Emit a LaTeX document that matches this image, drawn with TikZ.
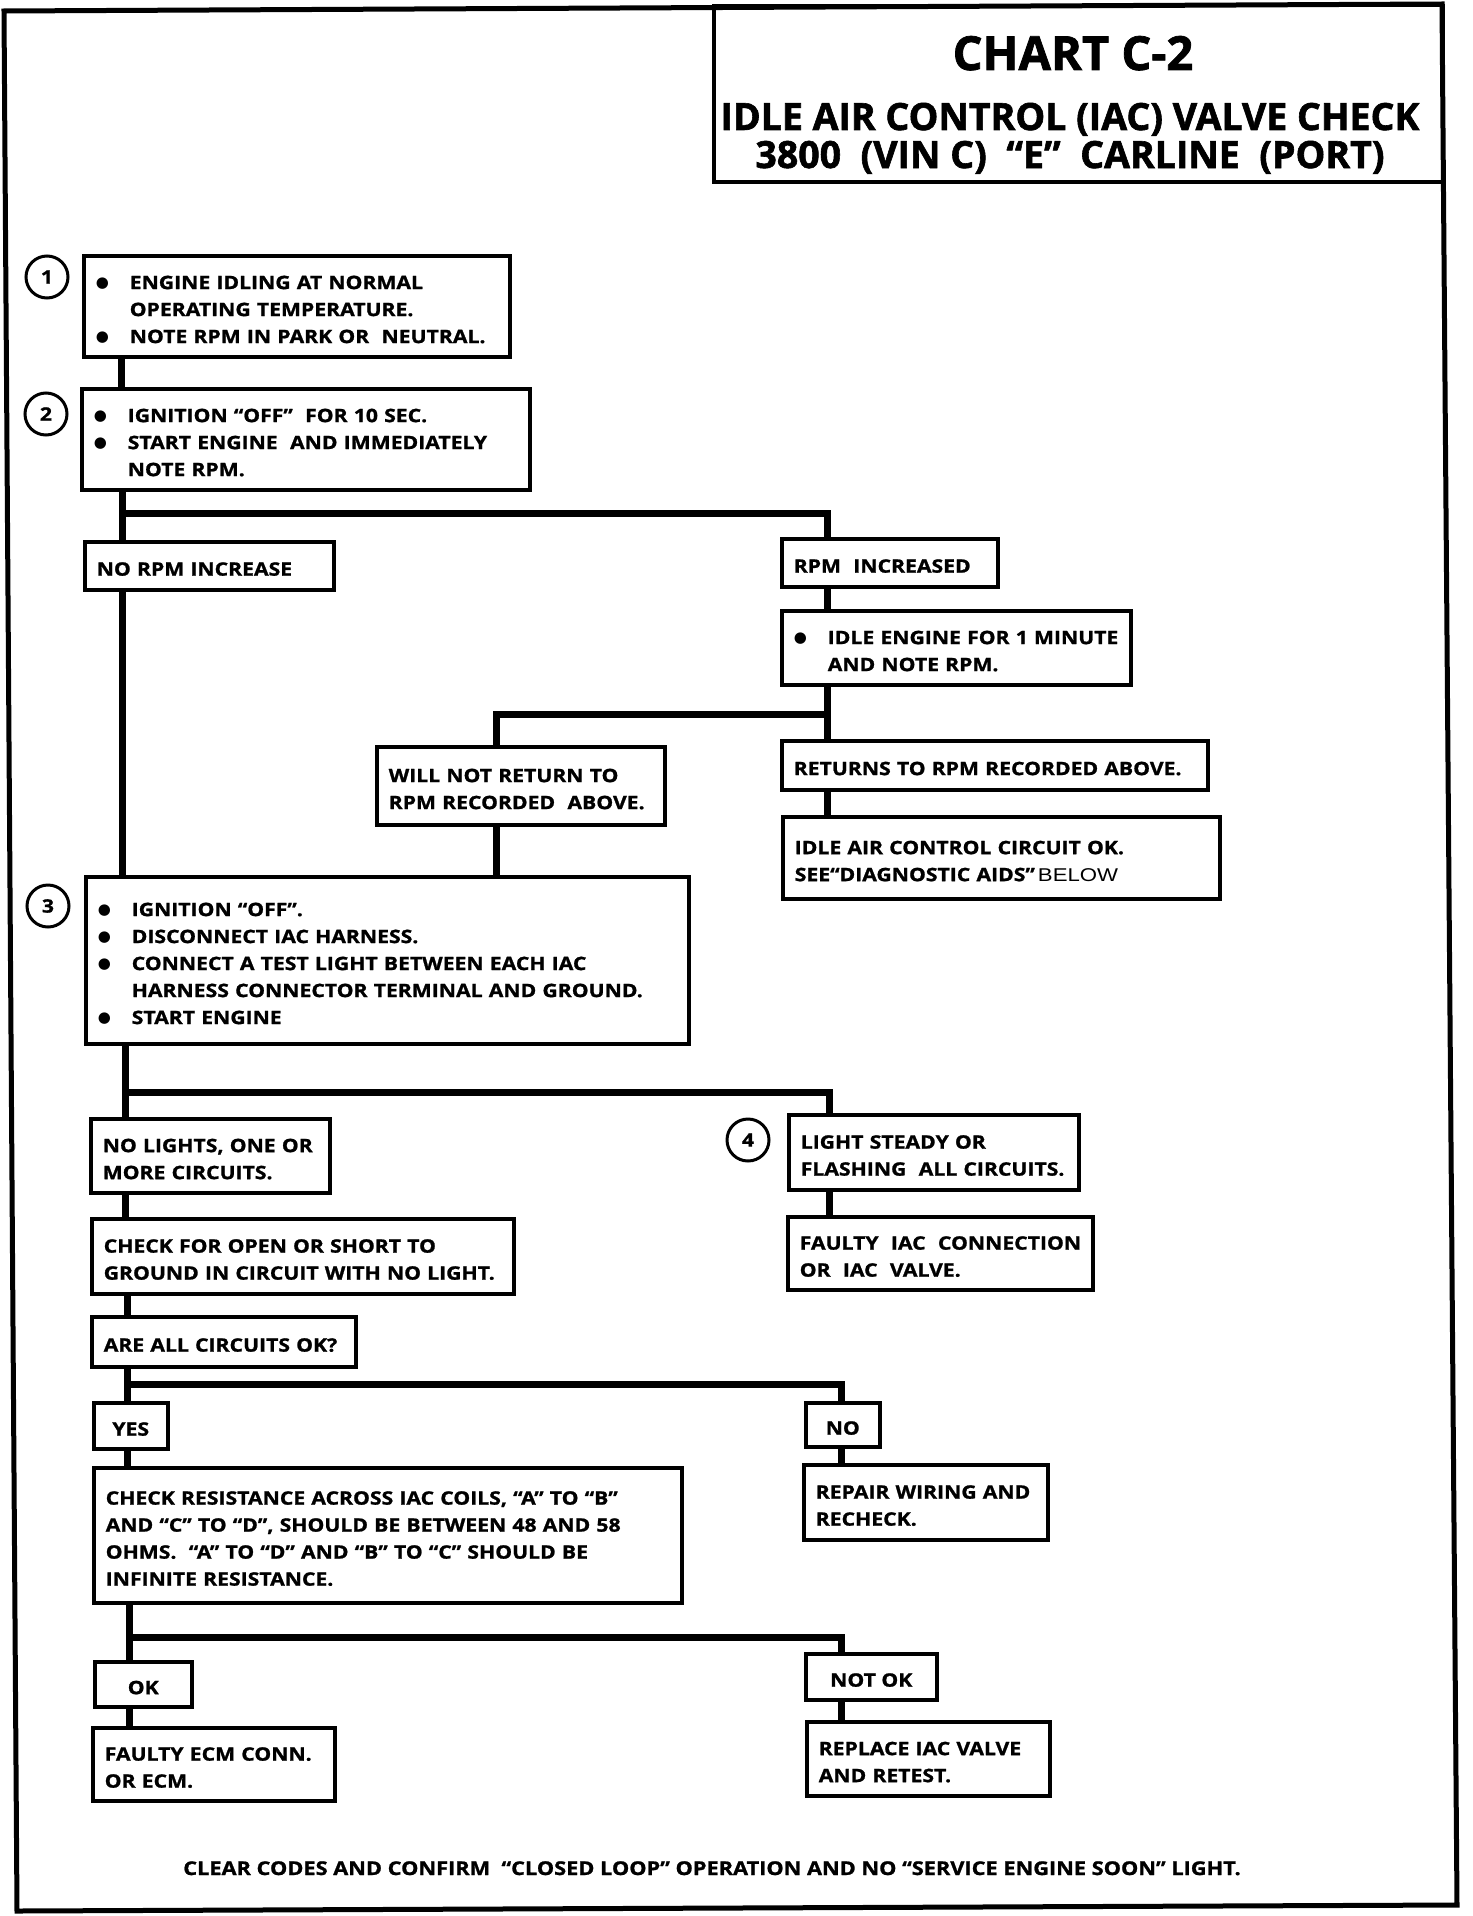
\documentclass[tikz,border=0pt]{standalone}
\usepackage{fontspec}
\newfontfamily\chartfont{Open Sans}[FakeStretch=1.145, FakeBold=1.2]
\newfontfamily\ctitlefont{Open Sans}[FakeBold=1.6]
\newfontfamily\cregfont{Liberation Sans}[FakeStretch=1.2]
\newfontfamily\cbulfont{DejaVu Sans}
\newcommand\cbody{\chartfont\bfseries\fontsize{18.5pt}{27pt}\selectfont}
\newcommand\cbul{\makebox[34pt][l]{\raisebox{1.5pt}{\cbulfont\fontsize{15pt}{15pt}\selectfont ●}}}
\newcommand\chang{\hspace*{34pt}}
\newcommand\cst{\rule{0pt}{20pt}}
\begin{document}
\begin{tikzpicture}[x=1pt, y=-1pt,
  box/.style={draw, line width=3.5pt, rectangle, anchor=north west, inner xsep=12pt, inner ysep=0pt, align=left, font=\cbody},
  sbox/.style={draw, line width=3.5pt, rectangle, anchor=north west, inner sep=0pt, align=center, font=\cbody},
  num/.style={draw, circle, line width=3pt, minimum size=42pt, inner sep=0pt, font=\cbody},
  conn/.style={line width=7pt, line cap=butt, line join=miter},
  ttl/.style={anchor=base, inner sep=0pt}]
\useasboundingbox (0,0) rectangle (1472,1916);
% outer frame
\draw[line width=5pt, line join=miter] (4,11) -- (1442,4) -- (1457,1905) -- (17,1911) -- cycle;
% title
\node[draw, line width=3.5pt, anchor=north west, minimum width=729pt, minimum height=176pt, inner sep=0pt] (titlebox) at (712,4) {};
\node[ttl, font=\ctitlefont\bfseries\fontsize{47pt}{50pt}\selectfont] (titleA) at (1073,70) {CHART C-2};
\node[ttl, font=\ctitlefont\bfseries\fontsize{37.5pt}{40pt}\selectfont] (titleB) at (1070,130) {IDLE AIR CONTROL (IAC) VALVE CHECK};
\node[ttl, font=\ctitlefont\bfseries\fontsize{37.5pt}{40pt}\selectfont] (titleC) at (1070,168) {3800~~(VIN C)~~“E”~~CARLINE~~(PORT)};

% step circles
\node[num] (c1) at (47,277) {1};
\node[num] (c2) at (46,414) {2};
\node[num] (c3) at (48,906) {3};
\node[num] (c4) at (748,1140) {4};

% boxes
\node[box, text width=402pt, minimum width=426pt, minimum height=101pt] (b1) at (82,254)
  {\cst\mbox{\cbul ENGINE IDLING AT NORMAL}\\\mbox{\chang OPERATING TEMPERATURE.}\\\mbox{\cbul NOTE RPM IN PARK OR~~NEUTRAL.}};
\node[box, text width=424pt, minimum width=448pt, minimum height=101pt] (b2) at (80,387)
  {\cst\mbox{\cbul IGNITION “OFF”~~FOR 10 SEC.}\\\mbox{\cbul START ENGINE~~AND IMMEDIATELY}\\\mbox{\chang NOTE RPM.}};
\node[box, text width=225pt, minimum width=249pt, minimum height=48pt] (norpm) at (83,540) {\cst\mbox{NO RPM INCREASE}};
\node[box, text width=192pt, minimum width=216pt, minimum height=48pt] (rpminc) at (780,537) {\cst\mbox{RPM~~INCREASED}};
\node[box, text width=325pt, minimum width=349pt, minimum height=74pt] (idle) at (780,609)
  {\cst\mbox{\cbul IDLE ENGINE FOR 1 MINUTE}\\\mbox{\chang AND NOTE RPM.}};
\node[box, text width=264pt, minimum width=288pt, minimum height=78pt] (willnot) at (375,745)
  {\cst\mbox{WILL NOT RETURN TO}\\\mbox{RPM RECORDED~~ABOVE.}};
\node[box, text width=402pt, minimum width=426pt, minimum height=49pt] (returns) at (780,739)
  {\cst\mbox{RETURNS TO RPM RECORDED ABOVE.}};
\node[box, text width=413pt, minimum width=437pt, minimum height=82pt] (iacok) at (781,815)
  {\cst\mbox{IDLE AIR CONTROL CIRCUIT OK.}\\\mbox{SEE“DIAGNOSTIC AIDS”\,{\cregfont\mdseries BELOW}}};
\node[box, text width=579pt, minimum width=603pt, minimum height=167pt] (b3) at (84,875)
  {\cst\mbox{\cbul IGNITION “OFF”.}\\\mbox{\cbul DISCONNECT IAC HARNESS.}\\\mbox{\cbul CONNECT A TEST LIGHT BETWEEN EACH IAC}\\\mbox{\chang HARNESS CONNECTOR TERMINAL AND GROUND.}\\\mbox{\cbul START ENGINE}};
\node[box, text width=215pt, minimum width=239pt, minimum height=74pt] (nolights) at (89,1117)
  {\cst\mbox{NO LIGHTS, ONE OR}\\\mbox{MORE CIRCUITS.}};
\node[box, text width=398pt, minimum width=422pt, minimum height=75pt] (checkopen) at (90,1217)
  {\cst\mbox{CHECK FOR OPEN OR SHORT TO}\\\mbox{GROUND IN CIRCUIT WITH NO LIGHT.}};
\node[box, text width=240pt, minimum width=264pt, minimum height=50pt] (areall) at (90,1315)
  {\cst\mbox{ARE ALL CIRCUITS OK?}};
\node[box, text width=266pt, minimum width=290pt, minimum height=75pt] (lightsteady) at (787,1113)
  {\cst\mbox{LIGHT STEADY OR}\\\mbox{FLASHING~~ALL CIRCUITS.}};
\node[box, text width=281pt, minimum width=305pt, minimum height=73pt] (faultyiac) at (786,1215)
  {\cst\mbox{FAULTY~~IAC~~CONNECTION}\\\mbox{OR~~IAC~~VALVE.}};
\node[sbox, minimum width=74pt, minimum height=46pt] (yes) at (92,1401) {\cst YES};
\node[sbox, minimum width=74pt, minimum height=44pt] (no) at (804,1401) {\cst NO};
\node[box, text width=564pt, minimum width=588pt, minimum height=135pt] (checkres) at (92,1466)
  {\cst\mbox{CHECK RESISTANCE ACROSS IAC COILS, “A” TO “B”}\\\mbox{AND “C” TO “D”, SHOULD BE BETWEEN 48 AND 58}\\\mbox{OHMS.~~“A” TO “D” AND “B” TO “C” SHOULD BE}\\\mbox{INFINITE RESISTANCE.}};
\node[box, text width=220pt, minimum width=244pt, minimum height=75pt] (repair) at (802,1463)
  {\cst\mbox{REPAIR WIRING AND}\\\mbox{RECHECK.}};
\node[sbox, minimum width=97pt, minimum height=45pt] (ok) at (93,1660) {\cst OK};
\node[sbox, minimum width=131pt, minimum height=46pt] (notok) at (804,1652) {\cst NOT OK};
\node[box, text width=218pt, minimum width=242pt, minimum height=73pt] (faultyecm) at (91,1726)
  {\cst\mbox{FAULTY ECM CONN.}\\\mbox{OR ECM.}};
\node[box, text width=219pt, minimum width=243pt, minimum height=74pt] (replace) at (805,1720)
  {\cst\mbox{REPLACE IAC VALVE}\\\mbox{AND RETEST.}};

\node[anchor=base, inner sep=0pt, font=\chartfont\bfseries\fontsize{19pt}{27pt}\selectfont] (footer) at (712,1875)
  {CLEAR CODES AND CONFIRM~~“CLOSED LOOP” OPERATION AND NO “SERVICE ENGINE SOON” LIGHT.};

% connector columns and junctions
\coordinate (xa) at (121,0);
\coordinate (xb) at (122,0);
\coordinate (xc) at (125,0);
\coordinate (xd) at (127,0);
\coordinate (xe) at (129,0);
\coordinate (xr) at (827,0);
\coordinate (xw) at (496,0);
\coordinate (xl) at (829,0);
\coordinate (xn) at (841,0);
\coordinate (ja) at (122,513);
\coordinate (jb) at (827,714);
\coordinate (jc) at (125,1092);
\coordinate (jd) at (127,1384);
\coordinate (je) at (129,1637);

\draw[conn] (b1.south -| xa) -- (b2.north -| xa);
\draw[conn] (b2.south -| xb) -- (norpm.north -| xb);
\draw[conn] (ja) -| (rpminc.north -| xr);
\draw[conn] (norpm.south -| xb) -- (b3.north -| xb);
\draw[conn] (rpminc.south -| xr) -- (idle.north -| xr);
\draw[conn] (idle.south -| xr) -- (returns.north -| xr);
\draw[conn] (jb) -| (willnot.north -| xw);
\draw[conn] (returns.south -| xr) -- (iacok.north -| xr);
\draw[conn] (willnot.south -| xw) -- (b3.north -| xw);
\draw[conn] (b3.south -| xc) -- (nolights.north -| xc);
\draw[conn] (jc) -| (lightsteady.north -| xl);
\draw[conn] (lightsteady.south -| xl) -- (faultyiac.north -| xl);
\draw[conn] (nolights.south -| xc) -- (checkopen.north -| xc);
\draw[conn] (checkopen.south -| xd) -- (areall.north -| xd);
\draw[conn] (areall.south -| xd) -- (yes.north -| xd);
\draw[conn] (jd) -| (no.north -| xn);
\draw[conn] (yes.south -| xd) -- (checkres.north -| xd);
\draw[conn] (no.south -| xn) -- (repair.north -| xn);
\draw[conn] (checkres.south -| xe) -- (ok.north -| xe);
\draw[conn] (je) -| (notok.north -| xn);
\draw[conn] (ok.south -| xe) -- (faultyecm.north -| xe);
\draw[conn] (notok.south -| xn) -- (replace.north -| xn);
\end{tikzpicture}
\end{document}
